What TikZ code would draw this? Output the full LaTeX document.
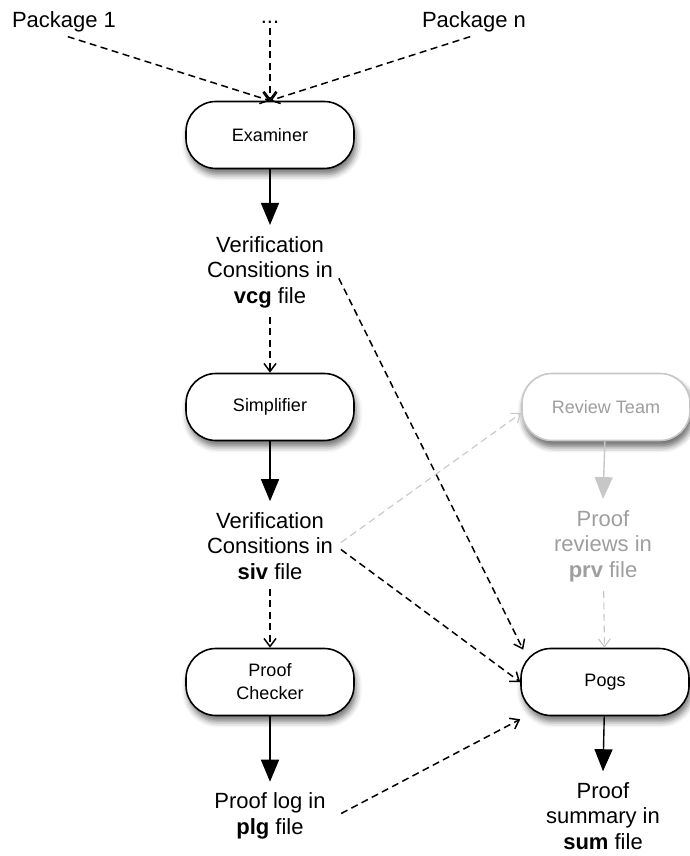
\documentclass[tikz,border=0pt]{standalone}
\usepackage{fontspec}
\setmainfont{Liberation Sans}
\usetikzlibrary{positioning, arrows.meta, shadows.blur}

\begin{document}
\begin{tikzpicture}[x=1pt, y=1pt, on grid,
    proc/.style={draw, line width=1.6pt, rounded corners=30pt, fill=white,
        minimum width=168pt, minimum height=67pt, align=center,
        font=\fontsize{18}{23}\selectfont,
        blur shadow={shadow xshift=2pt, shadow yshift=-6pt, shadow blur radius=6pt, shadow opacity=55}},
    doc/.style={align=center, font=\fontsize{22}{25.5}\selectfont, inner sep=3pt},
    flow/.style={-{Triangle[width=18pt,length=22pt]}, line width=1.4pt},
    dep/.style={-{Straight Barb[width=12pt,length=8pt]}, dash pattern=on 7pt off 4.5pt, line width=1.5pt},
    faded/.style={draw=black!22, text=black!38}]
    \useasboundingbox (0,0) rectangle (690,856);

    \node[proc] (examiner) at (270,721) {Examiner};
    \node[doc] (dots) [above=113pt of examiner] {...};
    \node[doc] (pkg1) [left=206pt of dots] {Package 1};
    \node[doc] (pkgn) [right=204pt of dots] {Package n};

    \node[doc] (vcg) [below=137pt of examiner] {Verification\\Consitions in\\\textbf{vcg} file};
    \node[proc] (simplifier) [below=135pt of vcg] {Simplifier};
    \node[doc] (siv) [below=139pt of simplifier] {Verification\\Consitions in\\\textbf{siv} file};
    \node[proc] (checker) [below=136pt of siv] {Proof\\Checker};
    \node[doc] (plg) [below=134pt of checker] {Proof log in\\\textbf{plg} file};

    \node[proc, faded, blur shadow={shadow xshift=2pt, shadow yshift=-6pt, shadow blur radius=6pt, shadow opacity=35}] (review) [right=336pt of simplifier] {Review Team};
    \node[doc, text=black!38] (prv) [right=333pt of siv] {Proof\\reviews in\\\textbf{prv} file};
    \node[proc] (pogs) [right=335pt of checker] {Pogs};
    \node[doc] (sum) [right=333pt of plg] {Proof\\summary in\\\textbf{sum} file};

    % inputs
    \draw[dep, shorten <=4pt] (pkg1.south) -- (examiner.north);
    \draw[dep, shorten <=2pt] (dots.south) -- (examiner.north);
    \draw[dep, shorten <=4pt] (pkgn.south) -- (examiner.north);

    % main tool chain
    \draw[flow] (examiner) -- ([yshift=8pt]vcg.north);
    \draw[dep, shorten <=6pt] (vcg) -- (simplifier);
    \draw[flow] (simplifier) -- ([yshift=8pt]siv.north);
    \draw[dep, shorten <=6pt] (siv) -- (checker);
    \draw[flow] (checker) -- ([yshift=8pt]plg.north);

    % review side
    \draw[flow, black!22] (review) -- ([yshift=8pt]prv.north);
    \draw[dep, black!22, line width=1.1pt, shorten <=6pt] (prv) -- (pogs);
    \draw[flow] (pogs) -- ([yshift=8pt]sum.north);

    % summaries into pogs
    \draw[dep, shorten <=6pt] ([yshift=-1pt]vcg.east) -- ([xshift=3pt,yshift=-2pt]pogs.north west);
    \draw[dep, black!22, line width=1.1pt, shorten <=6pt] (siv.east) -- ([yshift=-6pt]review.west);
    \draw[dep, shorten <=6pt] (siv.east) -- (pogs.west);
    \draw[dep, shorten <=14pt] ([yshift=-4pt]plg.east) -- ([yshift=-3pt]pogs.south west);
\end{tikzpicture}
\end{document}
